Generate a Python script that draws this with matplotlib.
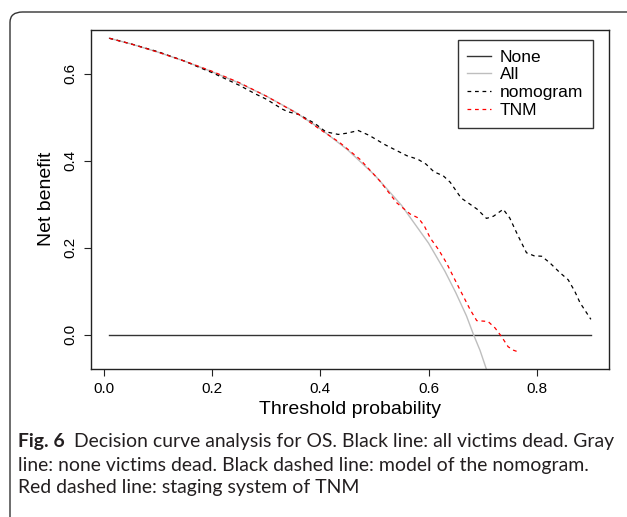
import matplotlib
matplotlib.use("Agg")
import matplotlib.pyplot as plt
from matplotlib.patches import FancyBboxPatch
from matplotlib.lines import Line2D

plt.rcParams['font.family'] = ['Liberation Sans', 'DejaVu Sans']

# ---- data ----
none_x = [0.01, 0.90]
none_y = [0.0, 0.0]

all_x = [0.01, 0.05, 0.10, 0.15, 0.20, 0.25, 0.30, 0.35, 0.40, 0.45, 0.50,
         0.55, 0.60, 0.63, 0.65, 0.67, 0.683, 0.695, 0.71]
all_y = [0.681, 0.668, 0.649, 0.628, 0.604, 0.578, 0.548, 0.514, 0.473, 0.425,
         0.367, 0.297, 0.210, 0.146, 0.097, 0.043, 0.000, -0.036, -0.091]

nomo_x = [0.01, 0.05, 0.10, 0.15, 0.18, 0.20, 0.25, 0.28, 0.30, 0.33, 0.34,
          0.36, 0.39, 0.41, 0.433, 0.45, 0.47, 0.49, 0.52, 0.56, 0.58, 0.595,
          0.61, 0.627, 0.64, 0.66, 0.69, 0.707, 0.72, 0.738, 0.75, 0.765,
          0.781, 0.795, 0.809, 0.824, 0.843, 0.858, 0.87, 0.88, 0.90]
nomo_y = [0.681, 0.668, 0.650, 0.628, 0.612, 0.602, 0.573, 0.553, 0.541, 0.518,
          0.512, 0.506, 0.485, 0.466, 0.460, 0.463, 0.469, 0.458, 0.436, 0.411,
          0.403, 0.392, 0.374, 0.365, 0.350, 0.314, 0.288, 0.267, 0.272, 0.288,
          0.268, 0.228, 0.188, 0.181, 0.180, 0.165, 0.142, 0.126, 0.100, 0.073,
          0.035]

tnm_x = [0.01, 0.05, 0.10, 0.15, 0.20, 0.25, 0.30, 0.36, 0.40, 0.435, 0.473,
         0.51, 0.541, 0.566, 0.581, 0.592, 0.603, 0.618, 0.633, 0.645, 0.658,
         0.677, 0.689, 0.700, 0.710, 0.723, 0.735, 0.747, 0.757, 0.766]
tnm_y = [0.681, 0.668, 0.649, 0.628, 0.605, 0.579, 0.548, 0.506, 0.471, 0.442,
         0.403, 0.353, 0.303, 0.277, 0.268, 0.250, 0.222, 0.196, 0.165, 0.135,
         0.103, 0.057, 0.032, 0.031, 0.030, 0.015, -0.005, -0.028, -0.036, -0.040]

xticks = [0.0, 0.2, 0.4, 0.6, 0.8]
xtick_labels = ["0.0", "0.2", "0.4", "0.6", "0.8"]
yticks = [0.0, 0.2, 0.4, 0.6]
ytick_labels = ["0.0", "0.2", "0.4", "0.6"]
legend_labels = ["None", "All", "nomogram", "TNM"]

W, H = 627, 517
fig = plt.figure(figsize=(W / 100, H / 100), dpi=100)

# rounded frame around figure + caption
frame = FancyBboxPatch((10 / W, -20 / H), (W + 40) / W, (H - 12 + 20) / H,
                       boxstyle="round,pad=0,rounding_size=0.02",
                       transform=fig.transFigure, fill=False,
                       edgecolor="#333333", linewidth=1.0, zorder=0)
fig.patches.append(frame)

ax = fig.add_axes([91 / W, 1 - 368.5 / H, (609 - 91) / W, (368.5 - 30) / H])
ax.set_xlim(-0.024, 0.9335)
ax.set_ylim(-0.078, 0.700)

dash = (0, (3, 3))
ax.plot(none_x, none_y, color="#333333", lw=1.0)
ax.plot(all_x, all_y, color="#BEBEBE", lw=1.0)
ax.plot(nomo_x, nomo_y, color="black", lw=0.9, linestyle=dash)
ax.plot(tnm_x, tnm_y, color="red", lw=0.9, linestyle=dash)

for s in ax.spines.values():
    s.set_linewidth(1.0)
    s.set_color("#222222")

ax.set_xticks(xticks)
ax.set_xticklabels(xtick_labels, fontsize=11)
ax.set_yticks(yticks)
ax.set_yticklabels(ytick_labels, fontsize=11, rotation=90, va="center")
ax.tick_params(axis="both", length=5, width=0.8, pad=5, color="#222222")
ax.set_xlabel("Threshold probability", fontsize=14, labelpad=3)
ax.set_ylabel("Net benefit", fontsize=14, labelpad=6)

handles = [Line2D([], [], color="#333333", lw=1.0),
           Line2D([], [], color="#BEBEBE", lw=1.0),
           Line2D([], [], color="black", lw=0.9, linestyle=dash),
           Line2D([], [], color="red", lw=0.9, linestyle=dash)]
leg = ax.legend(handles, legend_labels, loc="upper right",
                bbox_to_anchor=((593 - 91) / (609 - 91), 1 - (40 - 30) / (368.5 - 30)),
                fontsize=12.5, frameon=True, fancybox=False, handlelength=1.4,
                handletextpad=0.5, labelspacing=0.15, borderpad=0.55,
                borderaxespad=0)
leg.get_frame().set_edgecolor("black")
leg.get_frame().set_linewidth(1.0)

# caption
cap_font = ['Lato', 'DejaVu Sans']
cap_size = 13.95
fig.canvas.draw()
r = fig.canvas.get_renderer()
t1 = fig.text(18 / W, 1 - 442 / H, "Fig. 6", fontsize=cap_size, fontweight="bold",
              family=cap_font, va="center", ha="left", color="#231f20")
bb = t1.get_window_extent(renderer=r)
fig.text((bb.x1 + 9) / W, 1 - 442 / H,
         "Decision curve analysis for OS. Black line: all victims dead. Gray",
         fontsize=cap_size, family=cap_font, va="center", ha="left", color="#231f20")
fig.text(18 / W, 1 - 465 / H,
         "line: none victims dead. Black dashed line: model of the nomogram.",
         fontsize=cap_size, family=cap_font, va="center", ha="left", color="#231f20")
fig.text(18 / W, 1 - 488 / H,
         "Red dashed line: staging system of TNM",
         fontsize=cap_size, family=cap_font, va="center", ha="left", color="#231f20")

fig.savefig("out.png", dpi=100)
